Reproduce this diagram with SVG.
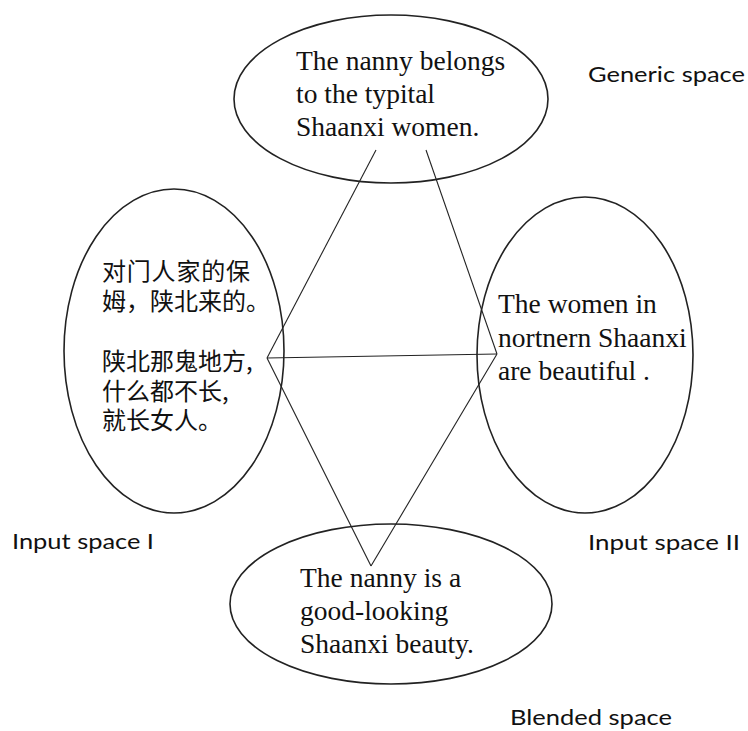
<svg xmlns="http://www.w3.org/2000/svg" width="748" height="731" viewBox="0 0 748 731">
<style>
.node{fill:none;stroke:#222;stroke-width:1.6}
.conn{stroke:#222;stroke-width:1.1;fill:none}
.en{font-family:"Liberation Serif","Times New Roman",serif;font-size:27.5px;fill:#111}
.zh{font-family:"Noto Sans CJK SC","Noto Sans",sans-serif;font-size:24px;fill:#111}
.lbl{font-family:Lato,"Open Sans",sans-serif;font-size:22px;fill:#111}
</style>
<rect width="748" height="731" fill="#fff"/>
<g id="connectors">
<line class="conn" x1="376" y1="150" x2="267" y2="358"/>
<line class="conn" x1="426" y1="150" x2="497" y2="354"/>
<line class="conn" x1="267" y1="358" x2="497" y2="354"/>
<line class="conn" x1="267" y1="358" x2="371" y2="566"/>
<line class="conn" x1="497" y1="354" x2="371" y2="566"/>
</g>
<g id="generic">
<ellipse class="node" cx="391" cy="99" rx="157" ry="84"/>
<text class="en" x="296" y="70">The nanny belongs</text>
<text class="en" x="296" y="103">to the typital</text>
<text class="en" x="296" y="136">Shaanxi women.</text>
</g>
<g id="input1">
<ellipse class="node" cx="174" cy="351" rx="110" ry="162"/>
<text class="zh" x="102" y="280" textLength="148">对门人家的保</text>
<text class="zh" x="102" y="310">姆，陕北来的。</text>
<text class="zh" x="102" y="370">陕北那鬼地方,</text>
<text class="zh" x="102" y="400">什么都不长,</text>
<text class="zh" x="102" y="429">就长女人。</text>
</g>
<g id="input2">
<ellipse class="node" cx="585" cy="355" rx="108" ry="158"/>
<text class="en" x="498" y="313">The women in</text>
<text class="en" x="498" y="347">nortnern Shaanxi</text>
<text class="en" x="498" y="380">are beautiful .</text>
</g>
<g id="blended">
<ellipse class="node" cx="391" cy="604" rx="161" ry="80"/>
<text class="en" x="300" y="587">The nanny is a</text>
<text class="en" x="300" y="620">good-looking</text>
<text class="en" x="300" y="653">Shaanxi beauty.</text>
</g>
<g id="labels">
<text class="lbl" x="588" y="82" textLength="157" lengthAdjust="spacingAndGlyphs">Generic space</text>
<text class="lbl" x="12" y="549" textLength="142" lengthAdjust="spacingAndGlyphs">Input space I</text>
<text class="lbl" x="588" y="550" textLength="152" lengthAdjust="spacingAndGlyphs">Input space II</text>
<text class="lbl" x="510" y="725" textLength="162" lengthAdjust="spacingAndGlyphs">Blended space</text>
</g>
</svg>
